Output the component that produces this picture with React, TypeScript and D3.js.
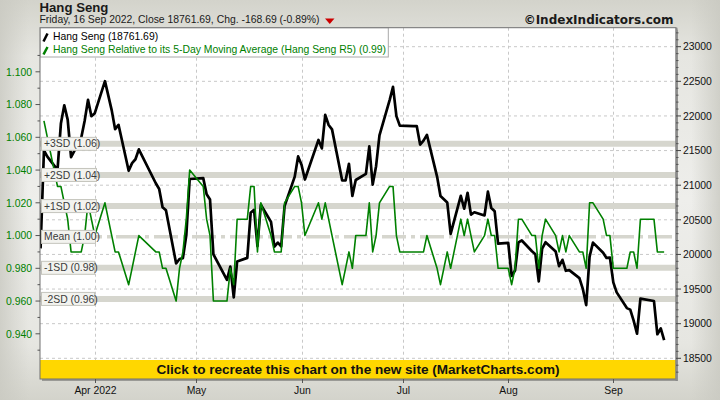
import React from "react";
import * as d3 from "d3";

// ---------- DATA ----------
const tradingDates: string[] = [
  "2022-03-16","2022-03-17","2022-03-18","2022-03-21","2022-03-22","2022-03-23","2022-03-24","2022-03-25","2022-03-28","2022-03-29","2022-03-30","2022-03-31",
  "2022-04-01","2022-04-04","2022-04-06","2022-04-07","2022-04-08","2022-04-11","2022-04-12","2022-04-13","2022-04-14","2022-04-19","2022-04-20","2022-04-21","2022-04-22","2022-04-25","2022-04-26","2022-04-27","2022-04-28","2022-04-29",
  "2022-05-03","2022-05-04","2022-05-05","2022-05-06","2022-05-10","2022-05-11","2022-05-12","2022-05-13","2022-05-16","2022-05-17","2022-05-18","2022-05-19","2022-05-20","2022-05-23","2022-05-24","2022-05-25","2022-05-26","2022-05-27","2022-05-30","2022-05-31",
  "2022-06-01","2022-06-02","2022-06-06","2022-06-07","2022-06-08","2022-06-09","2022-06-10","2022-06-13","2022-06-14","2022-06-15","2022-06-16","2022-06-17","2022-06-20","2022-06-21","2022-06-22","2022-06-23","2022-06-24","2022-06-27","2022-06-28","2022-06-29","2022-06-30",
  "2022-07-04","2022-07-05","2022-07-06","2022-07-07","2022-07-08","2022-07-11","2022-07-12","2022-07-13","2022-07-14","2022-07-15","2022-07-18","2022-07-19","2022-07-20","2022-07-21","2022-07-22","2022-07-25","2022-07-26","2022-07-27","2022-07-28","2022-07-29",
  "2022-08-01","2022-08-02","2022-08-03","2022-08-04","2022-08-05","2022-08-08","2022-08-09","2022-08-10","2022-08-11","2022-08-12","2022-08-15","2022-08-16","2022-08-17","2022-08-18","2022-08-19","2022-08-22","2022-08-23","2022-08-24","2022-08-25","2022-08-26","2022-08-29","2022-08-30","2022-08-31",
  "2022-09-01","2022-09-02","2022-09-05","2022-09-06","2022-09-07","2022-09-08","2022-09-09","2022-09-13","2022-09-14","2022-09-15","2022-09-16",
];

const hangSengClose: number[] = [
  20087.5, 21501.2, 21412.4, 21221.3, 21889.3, 22154.1, 21946.0, 21404.9, 21685.0, 21927.6, 22232.0, 21996.9,
  22039.6, 22502.3, 22080.5, 21809.0, 21872.0, 21208.3, 21319.1, 21374.4, 21518.1, 21027.8, 20944.7, 20682.2, 20638.5, 19869.3, 19934.7, 19946.4, 20276.2, 21089.4,
  21101.9, 20869.5, 20793.4, 20002.0, 19633.7, 19824.6, 19380.3, 19898.8, 19950.2, 20602.5, 20644.3, 20120.7, 20717.2, 20470.1, 20112.1, 20171.3, 20116.2, 20697.4, 21123.9, 21415.2,
  21294.9, 21082.1, 21653.9, 21531.7, 22014.6, 21869.1, 21806.2, 21067.6, 21067.6, 21308.2, 20845.4, 21075.0, 21163.9, 21559.6, 21008.3, 21273.9, 21719.1, 22229.5, 22419.0, 21996.9, 21859.8,
  21853.1, 21853.1, 21586.7, 21643.6, 21725.8, 21124.2, 20844.7, 20798.0, 20751.2, 20297.7, 20846.2, 20661.1, 20890.2, 20574.6, 20609.1, 20562.9, 20905.9, 20670.0, 20622.7, 20156.5,
  20165.8, 19689.2, 19767.1, 20174.0, 20201.9, 20045.8, 20003.4, 19610.8, 20082.4, 20175.6, 20040.9, 19830.5, 19922.5, 19763.9, 19773.0, 19657.0, 19503.3, 19268.7, 19968.4, 20170.0, 20023.2, 19949.0, 19954.4,
  19597.3, 19452.1, 19224.9, 19202.7, 19044.3, 18854.6, 19362.3, 19326.9, 18847.1, 18930.4, 18761.7,
];

// Relative to 5-day MA (starts 2022-03-17)
const r5Dates: string[] = tradingDates.slice(1);
const r5Values: number[] = [
  1.07, 1.06, 1.03, 1.03, 1.02, 1.01, 0.99, 0.99, 1.00, 1.02, 1.01,
  1.00, 1.02, 1.00, 0.99, 0.99, 0.97, 0.98, 0.99, 1.00, 0.99, 0.99, 0.98, 0.98, 0.96, 0.98, 0.99, 1.01, 1.04,
  1.03, 1.01, 1.00, 0.96, 0.96, 0.98, 0.97, 1.01, 1.01, 1.03, 1.03, 0.99, 1.02, 1.00, 0.99, 0.99, 0.99, 1.02, 1.03, 1.03,
  1.02, 1.00, 1.02, 1.01, 1.02, 1.01, 1.00, 0.97, 0.98, 0.99, 0.98, 1.00, 1.00, 1.02, 0.99, 1.00, 1.02, 1.03, 1.03, 1.00, 0.99,
  0.99, 0.99, 0.99, 0.99, 1.00, 0.98, 0.97, 0.98, 0.99, 0.98, 1.01, 1.00, 1.01, 1.00, 0.99, 1.00, 1.01, 1.00, 1.00, 0.98,
  0.98, 0.97, 0.98, 1.01, 1.01, 1.00, 1.00, 0.98, 1.00, 1.01, 1.00, 0.99, 1.00, 0.99, 1.00, 0.99, 0.99, 0.98, 1.02, 1.02, 1.01, 1.00, 1.00,
  0.98, 0.98, 0.98, 0.99, 0.99, 0.98, 1.01, 1.01, 0.99, 0.99, 0.99,
];

const sdBandValues: number[] = [1.056, 1.037, 1.018, 0.9992, 0.9803, 0.9613];
const sdBandLabels: string[] = ["+3SD (1.06)", "+2SD (1.04)", "+1SD (1.02)", "Mean (1.00)", "-1SD (0.98)", "-2SD (0.96)"];

const monthTickDates: string[] = ["2022-04-01", "2022-05-01", "2022-06-01", "2022-07-01", "2022-08-01", "2022-09-01"];
const monthTickLabels: string[] = ["Apr 2022", "May", "Jun", "Jul", "Aug", "Sep"];

const leftTicks: number[] = [0.94, 0.96, 0.98, 1.0, 1.02, 1.04, 1.06, 1.08, 1.1];
const leftTickLabels: string[] = ["0.940", "0.960", "0.980", "1.000", "1.020", "1.040", "1.060", "1.080", "1.100"];
const rightTicks: number[] = [18500, 19000, 19500, 20000, 20500, 21000, 21500, 22000, 22500, 23000];

const titleText = "Hang Seng";
const subtitleText = "Friday, 16 Sep 2022, Close 18761.69, Chg. -168.69 (-0.89%)";
const legendText1 = "Hang Seng (18761.69)";
const legendText2 = "Hang Seng Relative to its 5-Day Moving Average (Hang Seng R5) (0.99)";
const copyrightText = "\u00A9IndexIndicators.com";
const bannerText = "Click to recreate this chart on the new site (MarketCharts.com)";

// ---------- COMPONENT ----------
export default function App() {
  const W = 720, H = 400;
  const pL = 40, pR = 676, pT = 27.7, pB = 379;
  const FONT = "'Liberation Sans', Arial, sans-serif";
  const GREEN = "#008000";

  const parse = d3.timeParse("%Y-%m-%d");
  const x = d3
    .scaleTime()
    .domain([new Date(2022, 2, 15, 20), new Date(2022, 8, 19, 12)])
    .range([pL, pR]);
  const yR = d3.scaleLinear().domain([18500, 23000]).range([358.3, 46.7]);
  const yL = d3.scaleLinear().domain([0.94, 1.1]).range([333.8, 71.8]);

  const line = d3.line<[number, number]>().x((d) => d[0]).y((d) => d[1]);
  const blackPts: [number, number][] = tradingDates.map((d, i) => [x(parse(d) as Date), yR(hangSengClose[i])]);
  const greenPts: [number, number][] = r5Dates.map((d, i) => [x(parse(d) as Date), yL(r5Values[i])]);

  const rightMinor = d3.range(18300, 23300, 100).filter((v) => v % 500 !== 0);
  const leftMinor = d3.range(0.93, 1.12, 0.02).map((v) => +v.toFixed(2));

  return (
    <svg
      width={W}
      height={H}
      viewBox={`0 0 ${W} ${H}`}
      style={{ position: "absolute", left: 0, top: 0, display: "block" }}
      fontFamily={FONT}
    >
      <defs>
        <linearGradient id="bgV" x1="0" y1="0" x2="0" y2="1">
          <stop offset="0" stopColor="#d3d3cb" />
          <stop offset="0.14" stopColor="#e6e6e1" />
          <stop offset="0.5" stopColor="#eeeeeb" />
          <stop offset="0.86" stopColor="#e6e6e1" />
          <stop offset="1" stopColor="#d3d3cb" />
        </linearGradient>
        <linearGradient id="bgH" x1="0" y1="0" x2="1" y2="0">
          <stop offset="0" stopColor="#c9c9c1" stopOpacity="0.8" />
          <stop offset="0.04" stopColor="#c9c9c1" stopOpacity="0" />
          <stop offset="0.96" stopColor="#c9c9c1" stopOpacity="0" />
          <stop offset="1" stopColor="#c9c9c1" stopOpacity="0.8" />
        </linearGradient>
        <clipPath id="plotClip">
          <rect x={pL} y={pT} width={pR - pL} height={pB - pT} />
        </clipPath>
      </defs>

      {/* background */}
      <rect x={0} y={0} width={W} height={H} fill="url(#bgV)" />
      <rect x={0} y={0} width={W} height={H} fill="url(#bgH)" />

      {/* plot shadow + area */}
      <rect x={pL + 2} y={pT + 2} width={pR - pL} height={pB - pT} fill="#9a9a96" />
      <rect x={pL} y={pT} width={pR - pL} height={pB - pT} fill="#ffffff" />

      <g clipPath="url(#plotClip)">
        {/* horizontal gridlines (right axis) */}
        {rightTicks.map((v) => (
          <line key={"hg" + v} x1={pL} x2={pR} y1={yR(v)} y2={yR(v)} stroke="#c8c8c8" strokeDasharray="3,3" strokeWidth={1} />
        ))}
        {/* vertical gridlines */}
        {monthTickDates.map((d) => {
          const xx = Math.round(x(parse(d) as Date)) + 0.5;
          return <line key={"vg" + d} x1={xx} x2={xx} y1={pT} y2={pB} stroke="#c8c8c8" strokeDasharray="3,3" strokeWidth={1} />;
        })}

        {/* SD bands */}
        {sdBandValues.map((v, i) =>
          i === 3 ? (
            <line key={"sd" + i} x1={pL} x2={pR} y1={yL(v)} y2={yL(v)} stroke="#d6d6ce" strokeWidth={3.5} strokeDasharray="24,5,4,5" />
          ) : (
            <line key={"sd" + i} x1={pL} x2={pR} y1={yL(v)} y2={yL(v)} stroke="#d6d6ce" strokeWidth={6} />
          )
        )}

        {/* series */}
        <path d={line(blackPts) || ""} fill="none" stroke="#000000" strokeWidth={2.7} strokeLinejoin="round" />
        <path d={line(greenPts) || ""} fill="none" stroke={GREEN} strokeWidth={1.6} strokeLinejoin="round" />

        {/* SD labels */}
        {sdBandValues.map((v, i) => {
          const yy = yL(v);
          const w = i === 3 ? 54 : i >= 4 ? 53 : 55;
          return (
            <g key={"sdl" + i}>
              <rect x={pL + 1.5} y={yy - 6.5} width={w} height={13} fill="#f3f3ef" stroke="#c4c4bc" strokeWidth={1} />
              <text x={pL + 4} y={yy + 3.6} fontSize={10.4} fill="#3a3a3a">
                {sdBandLabels[i]}
              </text>
            </g>
          );
        })}

        {/* legend */}
        <rect x={pL} y={pT} width={348.3} height={29.3} fill="#ffffff" stroke="#a8a8a8" strokeWidth={1} />
        <line x1={43.5} y1={41.5} x2={47.5} y2={33.5} stroke="#000000" strokeWidth={2.5} />
        <text x={53} y={39.5} fontSize={10.4} fill="#000000">{legendText1}</text>
        <line x1={43.5} y1={54.5} x2={47.5} y2={47} stroke={GREEN} strokeWidth={2.5} />
        <text x={53} y={52.8} fontSize={10.4} fill={GREEN}>{legendText2}</text>

        {/* banner */}
        <rect x={pL} y={360} width={pR - pL} height={pB - 360} fill="#ffd700" />
        <text
          x={(pL + pR) / 2}
          y={374.2}
          fontSize={12.5}
          fontWeight="bold"
          textAnchor="middle"
          fill="#111111"
          textLength={403}
          lengthAdjust="spacingAndGlyphs"
        >
          {bannerText}
        </text>
      </g>

      {/* plot border */}
      <rect x={pL} y={pT} width={pR - pL} height={pB - pT} fill="none" stroke="#707070" strokeWidth={1} />
      <line x1={pR + 0.5} x2={pR + 0.5} y1={pT} y2={pB + 2} stroke="#8a8a8a" strokeWidth={2} />

      {/* left axis */}
      {leftTicks.map((v, i) => (
        <g key={"lt" + v}>
          <line x1={pL - 4.5} x2={pL} y1={yL(v)} y2={yL(v)} stroke="#555555" strokeWidth={1} />
          <text x={32} y={yL(v) + 3.7} fontSize={10.4} textAnchor="end" fill={GREEN}>
            {leftTickLabels[i]}
          </text>
        </g>
      ))}
      {leftMinor.map((v) => (
        <line key={"lm" + v} x1={pL - 2.5} x2={pL} y1={yL(v)} y2={yL(v)} stroke="#555555" strokeWidth={1} />
      ))}

      {/* right axis */}
      {rightTicks.map((v) => (
        <g key={"rt" + v}>
          <line x1={pR} x2={pR + 5} y1={yR(v)} y2={yR(v)} stroke="#444444" strokeWidth={1} />
          <text x={683} y={yR(v) + 3.7} fontSize={10.4} fill="#111111">
            {v}
          </text>
        </g>
      ))}
      {rightMinor.map((v) => (
        <line key={"rm" + v} x1={pR} x2={pR + 2.5} y1={yR(v)} y2={yR(v)} stroke="#555555" strokeWidth={1} />
      ))}

      {/* x axis */}
      {monthTickDates.map((d, i) => {
        const xx = Math.round(x(parse(d) as Date)) + 0.5;
        return (
          <g key={"xt" + d}>
            <line x1={xx} x2={xx} y1={pB} y2={pB + 4} stroke="#555555" strokeWidth={1} />
            <text x={xx} y={394} fontSize={10.4} textAnchor="middle" fill="#111111">
              {monthTickLabels[i]}
            </text>
          </g>
        );
      })}

      {/* titles */}
      <text x={39.5} y={11.6} fontSize={13.2} fontWeight="bold" fill="#1a1a1a">{titleText}</text>
      <text x={39.5} y={23.4} fontSize={10.4} fill="#1a1a1a">{subtitleText}</text>
      <path d="M325,18.5 L334.5,18.5 L329.75,24 Z" fill="#cc0000" />
      <text
        x={673.5}
        y={23.8}
        fontSize={12}
        fontWeight="bold"
        textAnchor="end"
        fill="#1a1a1a"
        fontFamily="'DejaVu Sans', Verdana, sans-serif"
      >
        {copyrightText}
      </text>
    </svg>
  );
}
